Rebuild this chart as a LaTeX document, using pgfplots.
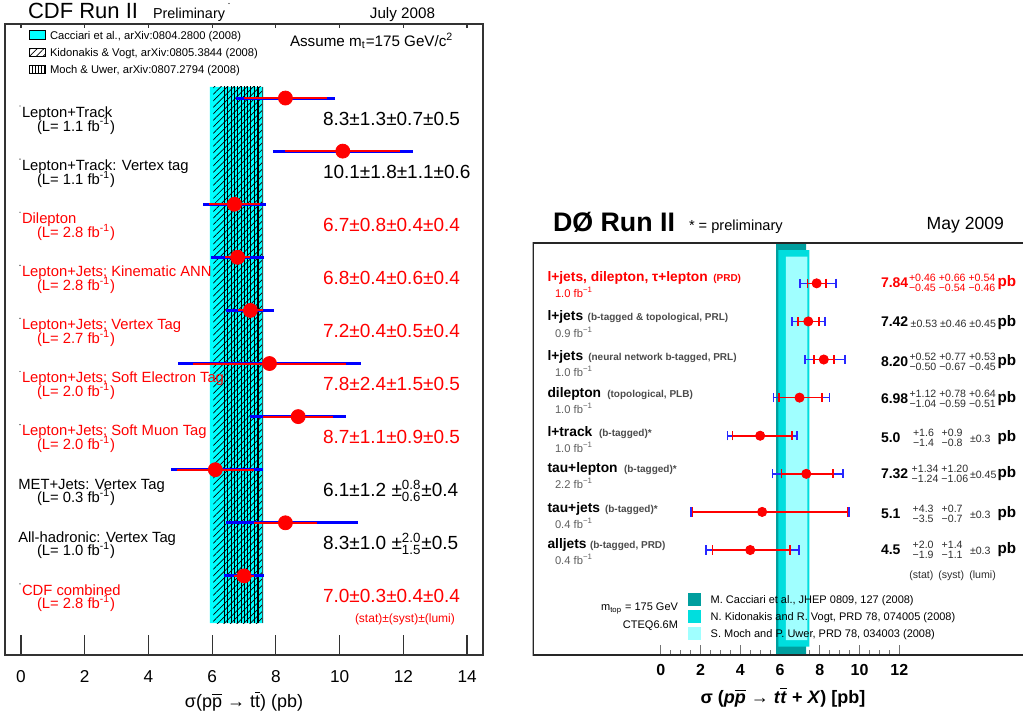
\documentclass[border=0pt]{standalone}
\usepackage{pgfplots}
\pgfplotsset{compat=1.18}
\usepackage{amsmath}
\usepackage{fontspec}
\setmainfont{Liberation Sans}
\usetikzlibrary{patterns,patterns.meta}
\definecolor{cdfcyan}{RGB}{0,255,255}
\definecolor{cdfred}{RGB}{255,0,0}
\definecolor{cdfblue}{RGB}{0,0,255}
\definecolor{dzblue}{RGB}{40,40,255}
\definecolor{dzdark}{RGB}{0,158,158}
\definecolor{dzmid}{RGB}{0,222,222}
\definecolor{dzlight}{RGB}{160,255,255}
\definecolor{dzgray}{RGB}{75,75,75}
\definecolor{dzlgray}{RGB}{95,95,95}
\definecolor{dztxt}{RGB}{45,45,45}
\newcommand{\fs}[1]{\fontsize{#1}{#1}\selectfont}
\newcommand{\stk}[2]{${}^{\text{#1}}_{\text{#2}}$}
\newcommand{\fbi}{fb\textsuperscript{-1}}
\newcommand{\fbm}{fb\textsuperscript{−1}}
\begin{document}
\begin{tikzpicture}
\useasboundingbox (0,0) rectangle (511.5pt,-362pt);
% ================= CDF panel =================
\begin{axis}[
  at={(2.5pt,-327.5pt)}, anchor=south west,
  width=239pt, height=315.5pt, scale only axis,
  xmin=-0.5, xmax=14.5, ymin=-0.394, ymax=11.49, y dir=reverse,
  xtick={0,2,...,14}, xtick pos=left, ytick=\empty,
  tick align=inside, major tick length=10pt,
  axis line style={line width=0.6pt, draw=black!80},
  tick style={black!80, line width=0.6pt},
  /pgf/number format/assume math mode=true,
  xticklabel style={font=\fs{8.6}, anchor=base, yshift=-13.8pt},
]
% theory bands
\addplot[fill=cdfcyan, draw=none] coordinates {(5.93,0.79) (7.61,0.79) (7.61,10.89) (5.93,10.89) (5.93,0.79)};
\addplot[draw=none, pattern={Lines[angle=45,distance=2.3pt,line width=0.35pt]}] coordinates {(6.04,0.79) (7.57,0.79) (7.57,10.89) (6.04,10.89) (6.04,0.79)};
\addplot[draw=none, pattern={Lines[angle=90,distance=1.65pt,line width=0.4pt]}] coordinates {(6.33,0.79) (7.45,0.79) (7.45,10.89) (6.33,10.89) (6.33,0.79)};
\addplot[black, line width=0.4pt] coordinates {(7.45,0.79) (7.45,10.89)};
\addplot[black!70, line width=0.4pt] coordinates {(7.57,0.79) (7.57,10.89)};
% total errors
\addplot[only marks, mark=none,
  error bars/.cd, x dir=both, x explicit, error mark=none,
  error bar style={draw=cdfblue, line width=1.5pt}]
coordinates {
 (8.3,1) +- (1.56,0)
 (10.1,2) +- (2.19,0)
 (6.7,3) +- (0.98,0)
 (6.8,4) +- (0.82,0)
 (7.2,5) +- (0.755,0)
 (7.8,6) +- (2.87,0)
 (8.7,7) +- (1.51,0)
 (6.1,8) += (1.50,0) -= (1.40,0)
 (8.3,9) += (2.29,0) -= (1.87,0)
 (7.0,10) +- (0.64,0)
};
% statistical errors
\addplot[only marks, mark=*, mark size=3.5pt, color=cdfred,
  error bars/.cd, x dir=both, x explicit, error mark=none,
  error bar style={draw=cdfred, line width=1pt}]
coordinates {
 (8.3,1) +- (1.3,0)
 (10.1,2) +- (1.8,0)
 (6.7,3) +- (0.8,0)
 (6.8,4) +- (0.4,0)
 (7.2,5) +- (0.4,0)
 (7.8,6) +- (2.4,0)
 (8.7,7) +- (1.1,0)
 (6.1,8) +- (1.2,0)
 (8.3,9) +- (1.0,0)
 (7.0,10) +- (0.3,0)
};
\end{axis}
% top ticks of CDF panel
\begin{axis}[
  at={(2.5pt,-327.5pt)}, anchor=south west,
  width=239pt, height=315.5pt, scale only axis,
  xmin=-0.5, xmax=14.5, ymin=0, ymax=1,
  xtick={0,2,...,14}, xtick pos=right, xticklabels={}, ytick=\empty,
  tick align=inside, major tick length=1.8pt,
  axis line style={draw=none},
  tick style={black!80, line width=0.6pt},
]
\end{axis}
% ================= D0 panel =================
\begin{axis}[
  at={(266.35pt,-327.5pt)}, anchor=south west,
  width=245.15pt, height=206.15pt, scale only axis,
  xmin=-6.44, xmax=18.22, ymin=-0.066, ymax=10.756, y dir=reverse,
  xtick={0,2,...,12}, minor xtick={0,0.5,...,12}, xtick pos=left, ytick=\empty,
  tick align=inside, major tick length=5pt, minor tick length=2.5pt,
  axis line style={draw=none},
  tick style={black!55, line width=0.5pt},
  /pgf/number format/assume math mode=true,
  xticklabel style={font=\bfseries\fs{8}, anchor=base, yshift=-10pt},
]
\addplot[fill=dzdark, draw=none] coordinates {(5.80,-0.066) (7.31,-0.066) (7.31,10.756) (5.80,10.756) (5.80,-0.066)};
\addplot[fill=dzmid, draw=none] coordinates {(5.92,0.126) (7.47,0.126) (7.47,10.538) (5.92,10.538) (5.92,0.126)};
\addplot[fill=dzlight, draw=none] coordinates {(6.29,0.302) (7.38,0.302) (7.38,10.362) (6.29,10.362) (6.29,0.302)};
% total errors
\addplot[only marks, mark=none, color=dzblue,
  error bars/.cd, x dir=both, x explicit, error mark=-,
  error mark options={rotate=90, draw=dzblue, mark size=2.3pt, line width=0.8pt},
  error bar style={draw=dzblue, line width=0.8pt}]
coordinates {
 (7.84,1) += (0.97,0) -= (0.84,0)
 (7.42,2) +- (0.83,0)
 (8.20,3) += (1.07,0) -= (0.95,0)
 (6.98,4) += (1.51,0) -= (1.30,0)
 (5.0,5) += (1.86,0) -= (1.64,0)
 (7.32,6) += (1.85,0) -= (1.69,0)
 (5.1,7) += (4.37,0) -= (3.58,0)
 (4.5,8) += (2.46,0) -= (2.22,0)
};
% statistical errors
\addplot[only marks, mark=*, mark size=2.3pt, color=cdfred,
  error bars/.cd, x dir=both, x explicit, error mark=-,
  error mark options={rotate=90, draw=cdfred, mark size=2.3pt, line width=0.8pt},
  error bar style={draw=cdfred, line width=0.8pt}]
coordinates {
 (7.84,1) += (0.46,0) -= (0.45,0)
 (7.42,2) +- (0.53,0)
 (8.20,3) += (0.52,0) -= (0.50,0)
 (6.98,4) += (1.12,0) -= (1.04,0)
 (5.0,5) += (1.6,0) -= (1.4,0)
 (7.32,6) += (1.34,0) -= (1.24,0)
 (5.1,7) += (4.3,0) -= (3.5,0)
 (4.5,8) += (2.0,0) -= (1.9,0)
};
\draw[line width=1pt, black!85] (rel axis cs:1,1) -- (rel axis cs:0,1) -- (rel axis cs:0,0) -- (rel axis cs:1,0);
\end{axis}
% ================= texts (pixel coordinates) =================
\begin{scope}[x=0.5pt, y=-0.5pt, every node/.style={inner sep=0pt, outer sep=0pt}]
% CDF header
\node[anchor=base west] at (28,18.3) {\fs{11}CDF Run II};
\node[anchor=base west] at (153,18.3) {\fs{7.2}Preliminary};
\fill (229,3.5) circle (0.7);
\node[anchor=base east] at (435,18.3) {\fs{7.6}July 2008};
% CDF legend
\draw[fill=cdfcyan, line width=0.4pt] (29.3,30.7) rectangle (45.7,39.3);
\draw[pattern={Lines[angle=45,distance=2.4pt,line width=0.35pt]}, line width=0.4pt] (29.3,48.3) rectangle (45.7,56.7);
\draw[pattern={Lines[angle=90,distance=1.6pt,line width=0.35pt]}, line width=0.4pt] (29.3,65) rectangle (45.7,73.7);
\node[anchor=base west] at (50,39.3) {\fs{5.6}Cacciari et al., arXiv:0804.2800 (2008)};
\node[anchor=base west] at (50,56.3) {\fs{5.6}Kidonakis \& Vogt, arXiv:0805.3844 (2008)};
\node[anchor=base west] at (50,73.3) {\fs{5.6}Moch \& Uwer, arXiv:0807.2794 (2008)};
\node[anchor=base west] at (290,46) {\fs{7.6}Assume m\textsubscript{t}=175 GeV/c\textsuperscript{2}};
% CDF row labels
\foreach \i/\col/\dx/\lab/\sub in {
  1/black/22/Lepton+Track/(L= 1.1 \fbi),
  2/black/22/Lepton+Track: Vertex tag/(L= 1.1 \fbi),
  3/cdfred/22/Dilepton/(L= 2.8 \fbi),
  4/cdfred/22/Lepton+Jets; Kinematic ANN/(L= 2.8 \fbi),
  5/cdfred/22/Lepton+Jets; Vertex Tag/(L= 2.7 \fbi),
  6/cdfred/22/Lepton+Jets; Soft Electron Tag/(L= 2.0 \fbi),
  7/cdfred/22/Lepton+Jets; Soft Muon Tag/(L= 2.0 \fbi),
  8/black/18.3/MET+Jets: Vertex Tag/(L= 0.3 \fbi),
  9/black/18.3/All-hadronic: Vertex Tag/(L= 1.0 \fbi),
  10/cdfred/22/CDF combined/(L= 2.8 \fbi)} {
  \pgfmathsetmacro{\py}{98+(\i-1)*53.1}
  \node[anchor=base west, text=\col] at (\dx,\py+19.3) {\fs{7.4}\lab};
  \node[anchor=base west, text=\col] at (37,\py+33) {\fs{7.4}\sub};
}
\foreach \i in {1,2,3,4,5,6,7,10} {
  \pgfmathsetmacro{\py}{98+(\i-1)*53.1}
  \fill[black!80] (20,\py+8) circle (0.7);
}
% CDF values
\foreach \i/\col/\val in {
  1/black/8.3±1.3±0.7±0.5,
  2/black/10.1±1.8±1.1±0.6,
  3/cdfred/6.7±0.8±0.4±0.4,
  4/cdfred/6.8±0.4±0.6±0.4,
  5/cdfred/7.2±0.4±0.5±0.4,
  6/cdfred/7.8±2.4±1.5±0.5,
  7/cdfred/8.7±1.1±0.9±0.5,
  8/black/6.1±1.2 ±\stk{0.8}{0.6}±0.4,
  9/black/8.3±1.0 ±\stk{2.0}{1.5}±0.5,
  10/cdfred/7.0±0.3±0.4±0.4} {
  \pgfmathsetmacro{\py}{98+(\i-1)*53.1}
  \node[anchor=base west, text=\col] at (323,\py+27) {\fs{9.5}\val};
}
\node[anchor=base west, text=cdfred] at (355,622.7) {\fs{6}(stat)±(syst)±(lumi)};
\node[anchor=base] at (244,707) {\fs{9}σ(p$\overline{\text{p}}$ → t$\overline{\text{t}}$) (pb)};
% D0 header
\node[anchor=base west] at (553,231.7) {\fs{13.4}\bfseries DØ Run II};
\node[anchor=base west] at (689,230) {\fs{7.3}* = preliminary};
\node[anchor=base east] at (1004,229.3) {\fs{8.8}May 2009};
% D0 row labels
\foreach \py/\col/\lab in {
  283.3/cdfred/{l+jets, dilepton, τ+lepton},
  322.7/black/l+jets,
  362.3/black/l+jets,
  399/black/dilepton,
  438.3/black/l+track,
  474.3/black/tau+lepton,
  514/black/tau+jets,
  550/black/alljets} {
  \node[anchor=base west, text=\col] at (547.5,\py-2) {\fs{6.9}\bfseries\lab};
}
\foreach \py/\px/\ptx in {
  322.7/587.7/{(b-tagged \& topological, PRL)},
  362.3/588.3/{(neural network b-tagged, PRL)},
  399/607.3/{(topological, PLB)},
  438.3/599/(b-tagged)*,
  474.3/624/(b-tagged)*,
  514/605/(b-tagged)*,
  550/590/{(b-tagged, PRD)}} {
  \node[anchor=base west, text=dzgray] at (\px,\py-2) {\fs{5}\bfseries\ptx};
}
\node[anchor=base west, text=cdfred] at (713.3,281.3) {\fs{5}\bfseries(PRD)};
\node[anchor=base west, text=cdfred] at (555,297.8) {\fs{5.6}1.0 \fbm};
\foreach \py/\sub in {322.7/0.9, 362.3/1.0, 399/1.0, 438.3/1.0, 474.3/2.2, 514/0.4, 550/0.4} {
  \node[anchor=base west, text=dzlgray] at (555,\py+14.5) {\fs{5.6}\sub\ \fbm};
}
% D0 values
\foreach \py/\col/\val in {283.3/cdfred/7.84, 322.7/black/7.42, 362.3/black/8.20, 399/black/6.98,
  438.3/black/5.0, 474.3/black/7.32, 514/black/5.1, 550/black/4.5} {
  \node[anchor=base west, text=\col] at (881,\py+4) {\fs{7}\bfseries\val};
  \node[anchor=base west, text=\col] at (997.5,\py+3.5) {\fs{7.6}\bfseries pb};
}
\foreach \py/\col/\px/\up/\dn in {
  283.3/cdfred/909/+0.46 +0.66 +0.54/−0.45 −0.54 −0.46,
  362.3/dztxt/909.5/+0.52 +0.77 +0.53/−0.50 −0.67 −0.45,
  399/dztxt/909.5/+1.12 +0.78 +0.64/−1.04 −0.59 −0.51,
  438.3/dztxt/913/+1.6/−1.4,
  438.3/dztxt/941.7/+0.9/−0.8,
  474.3/dztxt/911.7/+1.34 +1.20/−1.24 −1.06,
  514/dztxt/912.7/+4.3/−3.5,
  514/dztxt/941.7/+0.7/−0.7,
  550/dztxt/912.7/+2.0/−1.9,
  550/dztxt/941.7/+1.4/−1.1} {
  \node[anchor=base west, text=\col] at (\px,\py-1.6) {\fs{5.3}\up};
  \node[anchor=base west, text=\col] at (\px,\py+8.4) {\fs{5.3}\dn};
}
\node[anchor=base west, text=dztxt] at (910.7,327.7) {\fs{5.3}±0.53 ±0.46 ±0.45};
\foreach \py/\v in {438.3/±0.3, 474.3/±0.45, 514/±0.3, 550/±0.3} {
  \node[anchor=base west, text=dztxt] at (970,\py+4) {\fs{5.3}\v};
}
\node[anchor=base west, text=dztxt] at (909.3,578) {\fs{5.3}(stat)};
\node[anchor=base west, text=dztxt] at (938.3,578) {\fs{5.3}(syst)};
\node[anchor=base west, text=dztxt] at (969.3,578) {\fs{5.3}(lumi)};
% D0 legend
\fill[dzdark] (688,593.3) rectangle (701,606);
\fill[dzmid] (688,610) rectangle (701,622.7);
\fill[dzlight] (688,627.3) rectangle (701,640);
\node[anchor=base west] at (710.7,603.3) {\fs{5.5}M. Cacciari et al., JHEP 0809, 127 (2008)};
\node[anchor=base west] at (710.7,620) {\fs{5.5}N. Kidonakis and R. Vogt, PRD 78, 074005 (2008)};
\node[anchor=base west] at (710.7,637.3) {\fs{5.5}S. Moch and P. Uwer, PRD 78, 034003 (2008)};
\node[anchor=base east] at (678,610.7) {\fs{5.5}m\textsubscript{top} = 175 GeV};
\node[anchor=base east] at (678,628.3) {\fs{5.5}CTEQ6.6M};
\node[anchor=base] at (783,703) {\fs{9}\bfseries σ (\textit{p}$\overline{\text{\textit{p}}}$ → \textit{t}$\overline{\text{\textit{t}}}$ + \textit{X}) [pb]};
\end{scope}
\end{tikzpicture}
\end{document}
